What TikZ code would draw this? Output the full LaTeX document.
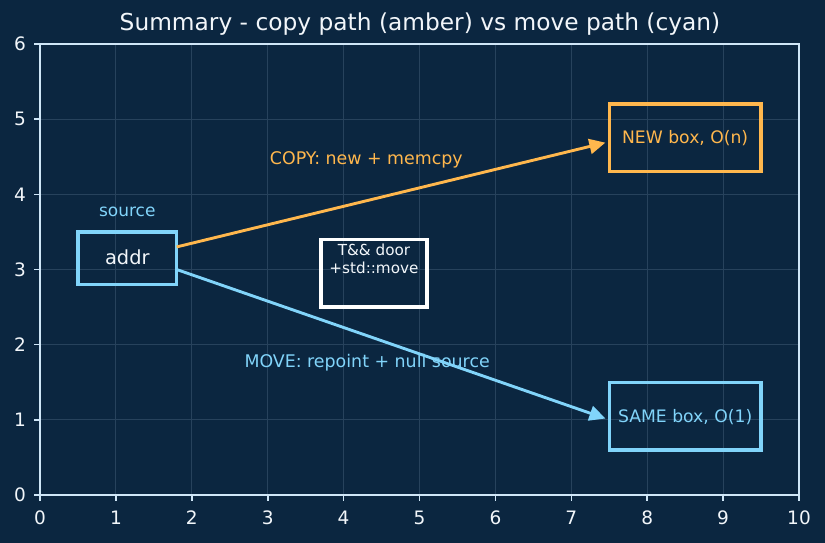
\documentclass[tikz,border=0pt]{standalone}
\usepackage{fontspec}
\setmainfont{DejaVu Sans}
\usetikzlibrary{arrows.meta}
\definecolor{bg}{HTML}{0B2640}
\definecolor{gridc}{HTML}{27425C}
\definecolor{spine}{HTML}{CFE6F7}
\definecolor{amber}{HTML}{FFB74D}
\definecolor{cyanc}{HTML}{81D4FA}
\definecolor{txt}{HTML}{F2F6FA}
\tikzset{
  boxst/.style={draw, line width=3.4pt, fill=none, inner sep=0pt},
  lbl/.style={anchor=base, inner sep=0pt},
  arr/.style={line width=2.9pt, -{Triangle[length=16pt,width=15pt]}, shorten >=4pt, shorten <=0pt},
  ticklbl/.style={text=txt, font=\fontsize{18.5}{22}\selectfont, inner sep=0pt},
}
\begin{document}
\begin{tikzpicture}[x=75.9pt, y=75.17pt]
% background and bounding box
\path[fill=bg, use as bounding box] (-40pt,-48pt) rectangle (785pt,495pt);
% grid
\foreach \i in {1,...,9} \draw[gridc, line width=0.9pt] (\i,0) -- (\i,6);
\foreach \j in {1,...,5} \draw[gridc, line width=0.9pt] (0,\j) -- (10,\j);
% ticks and tick labels
\foreach \i in {0,...,10} {
  \draw[spine, line width=1.6pt] (\i,0) -- ++(0,-6pt);
  \node[ticklbl, anchor=base] (xt\i) at ([yshift=-30pt]\i,0) {\i};
}
\foreach \j in {0,...,6} {
  \draw[spine, line width=1.6pt] (0,\j) -- ++(-6pt,0);
  \node[ticklbl, anchor=east] (yt\j) at ([xshift=-14pt]0,\j) {\j};
}
% frame
\draw[spine, line width=2pt] (0,0) rectangle (10,6);
% title
\node[text=txt, font=\fontsize{23.3}{28}\selectfont, inner sep=0pt] (title) at (380pt,471pt) {Summary - copy path (amber) vs move path (cyan)};
% boxes
\node[boxst, cyanc, minimum width=98.7pt, minimum height=52.6pt] (addr) at (1.15,3.15) {};
\node[lbl, text=txt, font=\fontsize{19.4}{23}\selectfont] (addrt) at (1.15,3.07) {addr};
\node[lbl, text=cyanc, font=\fontsize{17}{20}\selectfont] (source) at (1.15,3.71) {source};
\node[boxst, white, minimum width=106.3pt, minimum height=67.7pt] (door) at (4.4,2.95) {};
\node[lbl, text=txt, font=\fontsize{15.2}{17.3}\selectfont] (doort1) at (4.4,3.18) {T\&\& door};
\node[lbl, text=txt, font=\fontsize{15.2}{17.3}\selectfont] (doort2) at (4.4,2.95) {+std::move};
\node[boxst, amber, minimum width=151.8pt, minimum height=67.7pt] (newb) at (8.5,4.75) {};
\node[lbl, text=amber, font=\fontsize{17.2}{20}\selectfont] (newt) at (8.5,4.68) {NEW box, O(n)};
\node[boxst, cyanc, minimum width=151.8pt, minimum height=67.7pt] (same) at (8.5,1.05) {};
\node[lbl, text=cyanc, font=\fontsize{17.2}{20}\selectfont] (samet) at (8.5,0.967) {SAME box, O(1)};
% labels
\node[lbl, text=amber, font=\fontsize{17.4}{20}\selectfont] (copyl) at (4.3,4.39) {COPY: new + memcpy};
\node[lbl, text=cyanc, font=\fontsize{17.4}{20}\selectfont] (movel) at (4.31,1.69) {MOVE: repoint + null source};
% arrows
\coordinate (cs) at (1.8,3.3);
\coordinate (ce) at (7.5,4.7);
\coordinate (ms) at (1.8,3.0);
\coordinate (me) at (7.5,1.0);
\draw[arr, amber] (cs) -- (ce);
\draw[arr, cyanc] (ms) -- (me);
\end{tikzpicture}
\end{document}
